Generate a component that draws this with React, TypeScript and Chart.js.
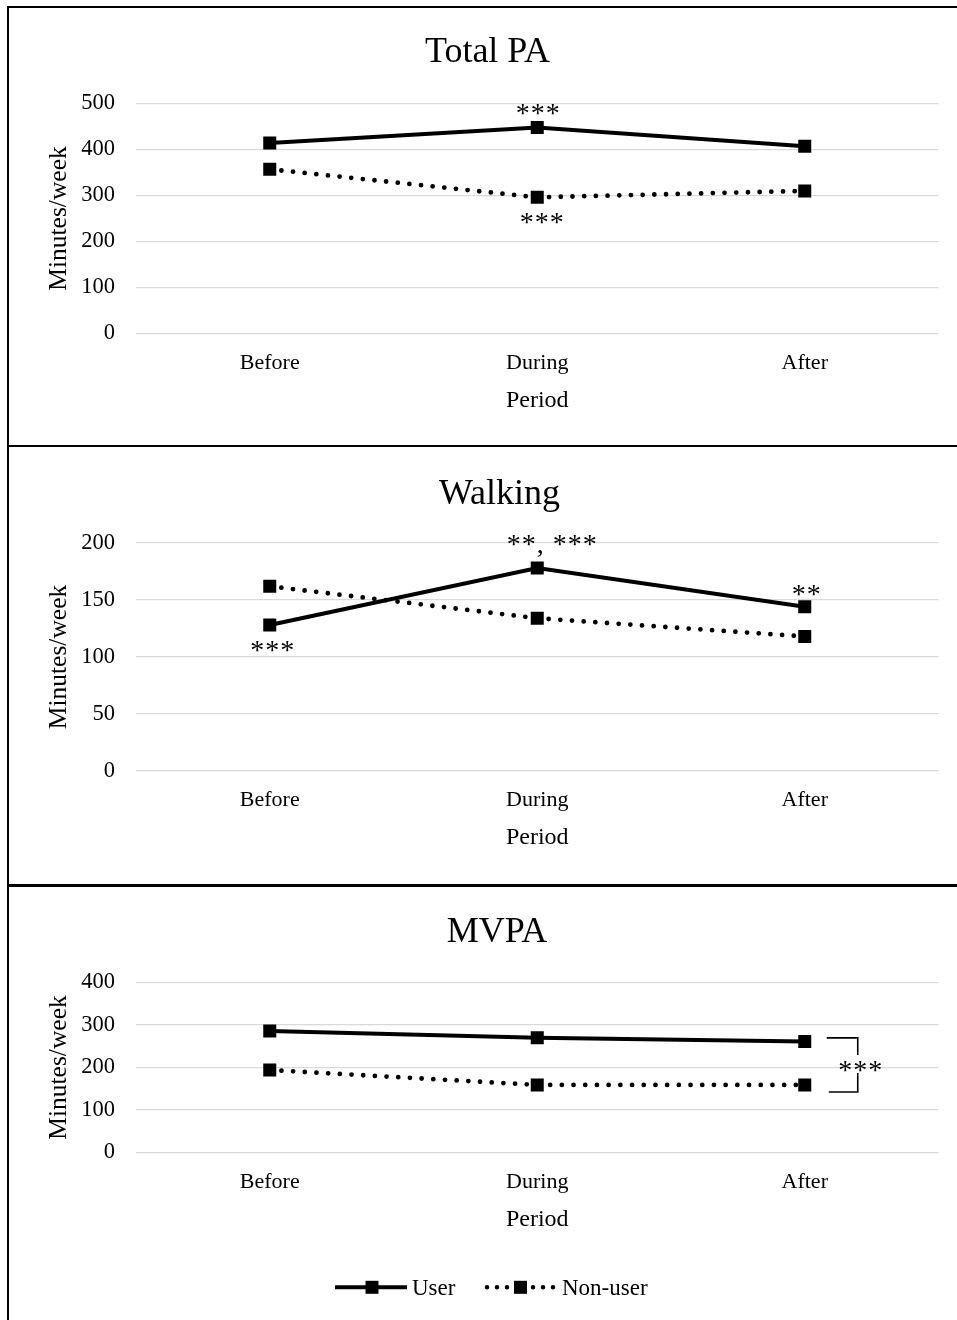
import React, { useEffect, useRef } from "react";
import { Chart, registerables } from "chart.js";

Chart.register(...registerables);

const FONT = '"Liberation Serif", "Times New Roman", Times, serif';

// ---- data ----
const periods = ["Before", "During", "After"];
const seriesNames = ["User", "Non-user"];

const totalPAUser = [414, 448, 407];
const totalPANonUser = [357, 296, 310];

const walkingUser = [128, 178, 144];
const walkingNonUser = [162, 134, 118];

const mvpaUser = [286, 270, 261];
const mvpaNonUser = [194, 159, 159];

const panelTitles = ["Total PA", "Walking", "MVPA"];
const yAxisTitle = "Minutes/week";
const xAxisTitle = "Period";

const totalPAYMax = 500;
const totalPAYStep = 100;
const walkingYMax = 200;
const walkingYStep = 50;
const mvpaYMax = 400;
const mvpaYStep = 100;

// significance marks: series index, point index, label
const totalPAMarks = [
  { series: 0, index: 1, text: "***", dx: 1, dy: -19 },
  { series: 1, index: 1, text: "***", dx: 5, dy: 20 },
];
const walkingMarks = [
  { series: 0, index: 1, text: "**, ***", dx: 15, dy: -29 },
  { series: 0, index: 0, text: "***", dx: 3, dy: 20 },
  { series: 0, index: 2, text: "**", dx: 2, dy: -18 },
];
const mvpaMarks: any[] = [];
const mvpaBracketText = "***";

// ---- layout ----
const CANVAS_W = 948;
const PLOT_LEFT = 127;
const PLOT_RIGHT = 929.5;
const YW = 60;
const XH = 60;
const STAR_SIZE = 28;

type Mark = { series: number; index: number; text: string; dx: number; dy: number };

interface PanelSpec {
  title: string;
  titleX: number;
  titleBaseline: number;
  user: number[];
  nonUser: number[];
  yMax: number;
  yStep: number;
  height: number;
  plotTop: number;
  plotBottom: number;
  marks: Mark[];
  bracket?: boolean;
  legend?: boolean;
}

function makePlugin(spec: PanelSpec) {
  return {
    id: "panelDecor",
    afterDatasetsDraw(chart: any) {
      const ctx: any = chart.ctx;
      const area = chart.chartArea;
      ctx.save();
      ctx.fillStyle = "#000";
      ctx.strokeStyle = "#000";

      // title
      ctx.font = `36px ${FONT}`;
      ctx.textAlign = "center";
      ctx.textBaseline = "alphabetic";
      ctx.fillText(spec.title, spec.titleX, spec.titleBaseline);

      // y axis title
      ctx.save();
      ctx.font = `25.5px ${FONT}`;
      ctx.translate(57, (area.top + area.bottom) / 2);
      ctx.rotate(-Math.PI / 2);
      ctx.fillText(yAxisTitle, 0, 0);
      ctx.restore();

      // x axis title
      ctx.font = `24px ${FONT}`;
      ctx.textAlign = "center";
      ctx.fillText(xAxisTitle, (area.left + area.right) / 2, area.bottom + 73);

      // significance marks
      ctx.font = `${STAR_SIZE}px ${FONT}`;
      ctx.textAlign = "center";
      ctx.letterSpacing = "1px";
      for (const m of spec.marks) {
        const pt = chart.getDatasetMeta(m.series).data[m.index];
        ctx.fillText(m.text, pt.x + m.dx, pt.y + m.dy + 14);
      }

      // bracket
      if (spec.bracket) {
        const a = chart.getDatasetMeta(0).data[2];
        const b = chart.getDatasetMeta(1).data[2];
        const top = a.y - 3.7;
        const bottom = b.y + 7;
        const mid = (top + bottom) / 2;
        const vx = a.x + 53;
        ctx.lineWidth = 1.6;
        ctx.beginPath();
        ctx.moveTo(a.x + 22, top);
        ctx.lineTo(vx, top);
        ctx.lineTo(vx, mid - 10);
        ctx.moveTo(vx, mid + 8);
        ctx.lineTo(vx, bottom);
        ctx.lineTo(a.x + 24, bottom);
        ctx.stroke();
        ctx.fillText(mvpaBracketText, vx + 3, mid + 14);
      }
      ctx.letterSpacing = "0px";

      // legend
      if (spec.legend) {
        const ly = 400.3;
        ctx.lineWidth = 4;
        ctx.setLineDash([]);
        ctx.beginPath();
        ctx.moveTo(326, ly);
        ctx.lineTo(398, ly);
        ctx.stroke();
        ctx.fillRect(363 - 6.5, ly - 6.5, 13, 13);
        ctx.font = `23px ${FONT}`;
        ctx.textAlign = "left";
        ctx.fillText(seriesNames[0], 403, 408);

        ctx.lineWidth = 4.5;
        ctx.lineCap = "round";
        ctx.setLineDash([0, 10]);
        ctx.beginPath();
        ctx.moveTo(478, ly);
        ctx.lineTo(498.5, ly);
        ctx.moveTo(524, ly);
        ctx.lineTo(544.5, ly);
        ctx.stroke();
        ctx.setLineDash([]);
        ctx.fillRect(511.5 - 6.5, ly - 6.5, 13, 13);
        ctx.fillText(seriesNames[1], 553, 408);
      }
      ctx.restore();
    },
  };
}

function Panel({ spec, borderBottom }: { spec: PanelSpec; borderBottom: number }) {
  const ref = useRef<HTMLCanvasElement | null>(null);
  useEffect(() => {
    const canvas = ref.current;
    if (!canvas) return;
    const chart = new Chart(canvas, {
      type: "line",
      data: {
        labels: periods,
        datasets: [
          {
            label: seriesNames[0],
            data: spec.user,
            borderColor: "#000",
            backgroundColor: "#000",
            borderWidth: 4,
            pointStyle: "rect",
            pointRadius: 9.2,
            pointBorderWidth: 0,
            pointBackgroundColor: "#000",
            tension: 0,
            fill: false,
          },
          {
            label: seriesNames[1],
            data: spec.nonUser,
            borderColor: "#000",
            backgroundColor: "#000",
            borderWidth: 4.8,
            borderDash: [0, 11.7],
            borderCapStyle: "round",
            pointStyle: "rect",
            pointRadius: 9.2,
            pointBorderWidth: 0,
            pointBackgroundColor: "#000",
            tension: 0,
            fill: false,
          },
        ],
      },
      options: {
        responsive: false,
        animation: false,
        devicePixelRatio: 1,
        events: [],
        layout: {
          padding: {
            left: PLOT_LEFT - YW,
            right: CANVAS_W - PLOT_RIGHT,
            top: spec.plotTop,
            bottom: spec.height - spec.plotBottom - XH,
          },
        },
        plugins: {
          legend: { display: false },
          tooltip: { enabled: false },
          title: { display: false },
        },
        scales: {
          x: {
            type: "category",
            offset: true,
            grid: { display: false, drawTicks: false },
            border: { display: false },
            ticks: {
              color: "#000",
              font: { family: FONT, size: 22 },
              padding: 16.5,
              maxRotation: 0,
              autoSkip: false,
            },
            afterFit: (s: any) => {
              s.height = XH;
            },
          },
          y: {
            min: 0,
            max: spec.yMax,
            grid: { color: "#d9d9d9", lineWidth: 1.3, drawTicks: false },
            border: { display: false },
            ticks: {
              stepSize: spec.yStep,
              color: "#000",
              font: { family: FONT, size: 22.5 },
              padding: 21,
            },
            afterFit: (s: any) => {
              s.width = YW;
            },
          },
        },
      } as any,
      plugins: [makePlugin(spec)],
    });
    return () => chart.destroy();
  }, [spec]);
  return (
    <div style={{ borderBottom: borderBottom ? `${borderBottom}px solid #000` : "none", height: spec.height }}>
      <canvas ref={ref} width={CANVAS_W} height={spec.height} style={{ display: "block" }} />
    </div>
  );
}

const specs: PanelSpec[] = [
  {
    title: panelTitles[0],
    titleX: 478.5,
    titleBaseline: 54,
    user: totalPAUser,
    nonUser: totalPANonUser,
    yMax: totalPAYMax,
    yStep: totalPAYStep,
    height: 437,
    plotTop: 95.5,
    plotBottom: 325.5,
    marks: totalPAMarks,
  },
  {
    title: panelTitles[1],
    titleX: 490.5,
    titleBaseline: 57,
    user: walkingUser,
    nonUser: walkingNonUser,
    yMax: walkingYMax,
    yStep: walkingYStep,
    height: 437,
    plotTop: 96,
    plotBottom: 324,
    marks: walkingMarks,
  },
  {
    title: panelTitles[2],
    titleX: 488,
    titleBaseline: 55,
    user: mvpaUser,
    nonUser: mvpaNonUser,
    yMax: mvpaYMax,
    yStep: mvpaYStep,
    height: 433,
    plotTop: 95.5,
    plotBottom: 265.5,
    marks: mvpaMarks,
    bracket: true,
    legend: true,
  },
];

export default function App() {
  useEffect(() => {
    document.body.style.overflow = "hidden";
    document.body.style.background = "#fff";
  }, []);
  return (
    <div
      style={{
        position: "absolute",
        left: 7,
        top: 6,
        width: 950,
        borderLeft: "2px solid #000",
        borderTop: "2px solid #000",
        background: "#fff",
        boxSizing: "content-box",
      }}
    >
      <Panel spec={specs[0]} borderBottom={2} />
      <Panel spec={specs[1]} borderBottom={3} />
      <Panel spec={specs[2]} borderBottom={0} />
    </div>
  );
}
